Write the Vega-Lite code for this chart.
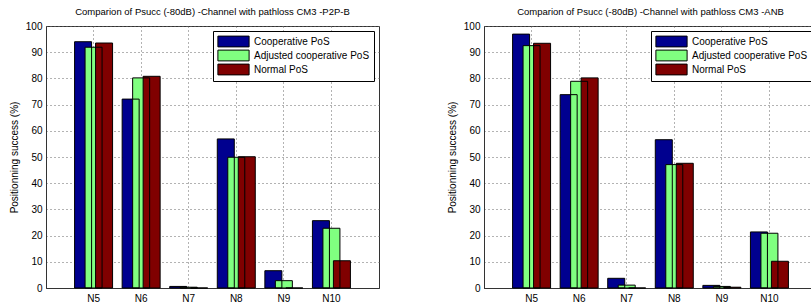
{
  "$schema": "https://vega.github.io/schema/vega-lite/v6.json",
  "padding": {"left": 8, "top": 6, "right": 0, "bottom": 0},
  "datasets": {
    "d": [
      {"panel": "P2P-B", "node": "N5", "series": "Cooperative PoS", "value": 94.0},
      {"panel": "P2P-B", "node": "N5", "series": "Adjusted cooperative PoS", "value": 91.9},
      {"panel": "P2P-B", "node": "N5", "series": "Normal PoS", "value": 93.5},
      {"panel": "P2P-B", "node": "N6", "series": "Cooperative PoS", "value": 72.1},
      {"panel": "P2P-B", "node": "N6", "series": "Adjusted cooperative PoS", "value": 80.2},
      {"panel": "P2P-B", "node": "N6", "series": "Normal PoS", "value": 80.8},
      {"panel": "P2P-B", "node": "N7", "series": "Cooperative PoS", "value": 0.6},
      {"panel": "P2P-B", "node": "N7", "series": "Adjusted cooperative PoS", "value": 0.3},
      {"panel": "P2P-B", "node": "N7", "series": "Normal PoS", "value": 0},
      {"panel": "P2P-B", "node": "N8", "series": "Cooperative PoS", "value": 56.9},
      {"panel": "P2P-B", "node": "N8", "series": "Adjusted cooperative PoS", "value": 49.9},
      {"panel": "P2P-B", "node": "N8", "series": "Normal PoS", "value": 50.1},
      {"panel": "P2P-B", "node": "N9", "series": "Cooperative PoS", "value": 6.6},
      {"panel": "P2P-B", "node": "N9", "series": "Adjusted cooperative PoS", "value": 2.8},
      {"panel": "P2P-B", "node": "N9", "series": "Normal PoS", "value": 0},
      {"panel": "P2P-B", "node": "N10", "series": "Cooperative PoS", "value": 25.7},
      {"panel": "P2P-B", "node": "N10", "series": "Adjusted cooperative PoS", "value": 22.8},
      {"panel": "P2P-B", "node": "N10", "series": "Normal PoS", "value": 10.4},
      {"panel": "ANB", "node": "N5", "series": "Cooperative PoS", "value": 96.9},
      {"panel": "ANB", "node": "N5", "series": "Adjusted cooperative PoS", "value": 92.5},
      {"panel": "ANB", "node": "N5", "series": "Normal PoS", "value": 93.4},
      {"panel": "ANB", "node": "N6", "series": "Cooperative PoS", "value": 73.8},
      {"panel": "ANB", "node": "N6", "series": "Adjusted cooperative PoS", "value": 78.9},
      {"panel": "ANB", "node": "N6", "series": "Normal PoS", "value": 80.2},
      {"panel": "ANB", "node": "N7", "series": "Cooperative PoS", "value": 3.7},
      {"panel": "ANB", "node": "N7", "series": "Adjusted cooperative PoS", "value": 1.1},
      {"panel": "ANB", "node": "N7", "series": "Normal PoS", "value": 0},
      {"panel": "ANB", "node": "N8", "series": "Cooperative PoS", "value": 56.6},
      {"panel": "ANB", "node": "N8", "series": "Adjusted cooperative PoS", "value": 47.1},
      {"panel": "ANB", "node": "N8", "series": "Normal PoS", "value": 47.6},
      {"panel": "ANB", "node": "N9", "series": "Cooperative PoS", "value": 1.0},
      {"panel": "ANB", "node": "N9", "series": "Adjusted cooperative PoS", "value": 0.6},
      {"panel": "ANB", "node": "N9", "series": "Normal PoS", "value": 0.3},
      {"panel": "ANB", "node": "N10", "series": "Cooperative PoS", "value": 21.4},
      {"panel": "ANB", "node": "N10", "series": "Adjusted cooperative PoS", "value": 20.9},
      {"panel": "ANB", "node": "N10", "series": "Normal PoS", "value": 10.2}
    ]
  },
  "config": {
    "font": "Liberation Sans",
    "view": {"stroke": "#333333", "strokeWidth": 1},
    "title": {"fontSize": 9.5, "fontWeight": "normal", "color": "#000000", "offset": 5, "anchor": "middle"},
    "axis": {
      "labelFont": "Liberation Sans", "labelFontSize": 10, "labelColor": "#000000",
      "titleFont": "Liberation Sans", "titleFontSize": 10, "titleFontWeight": "normal", "titleColor": "#000000",
      "domainColor": "#333333", "tickColor": "#333333", "tickSize": 4,
      "grid": true, "gridColor": "#666666", "gridDash": [1, 3], "gridOpacity": 1
    },
    "legend": {
      "labelFont": "Liberation Sans", "labelFontSize": 10, "labelColor": "#000000"
    }
  },
  "resolve": {"scale": {"color": "independent"}, "legend": {"color": "independent"}},
  "spacing": 66,
  "hconcat": [
    {
      "title": "Comparion of Psucc (-80dB) -Channel with pathloss CM3 -P2P-B",
      "width": 333, "height": 262,
      "data": {"name": "d"},
      "transform": [{"filter": "datum.panel == 'P2P-B'"}],
      "encoding": {
        "x": {"field": "node", "type": "nominal", "sort": ["N5", "N6", "N7", "N8", "N9", "N10"],
              "scale": {"paddingInner": 0, "paddingOuter": 0.5},
              "axis": {"title": null, "labelAngle": 0, "bandPosition": 0.5, "ticks": false, "labelPadding": 5}},
        "xOffset": {"field": "series", "type": "nominal", "sort": ["Cooperative PoS", "Adjusted cooperative PoS", "Normal PoS"],
                    "scale": {"paddingInner": 0, "paddingOuter": 0.767}},
        "y": {"field": "value", "type": "quantitative", "stack": null,
              "scale": {"domain": [0, 100], "nice": false},
              "axis": {"title": "Positionning success (%)", "values": [0,10,20,30,40,50,60,70,80,90,100], "ticks": false, "labelPadding": 4, "titlePadding": 6}}
      },
      "layer": [
        {
          "mark": {"type": "bar", "width": 17, "strokeWidth": 0},
          "encoding": {
            "color": {"field": "series", "type": "nominal", "sort": ["Cooperative PoS", "Adjusted cooperative PoS", "Normal PoS"],
                      "scale": {"range": ["#00008F", "#80FF80", "#800000"]},
                      "legend": {"title": null, "orient": "top-right", "offset": 5, "symbolType": "M-2.6,-0.9H2.6V0.9H-2.6Z",
                                 "symbolSize": 144, "symbolStrokeColor": "#000000", "symbolStrokeWidth": 1, "symbolOpacity": 1,
                                 "symbolOffset": 10, "labelOffset": 14, "rowPadding": -1, "padding": 4,
                                 "strokeColor": "#000000", "fillColor": "#ffffff"}}
          }
        },
        {
          "mark": {"type": "bar", "width": 17, "fillOpacity": 0, "stroke": "#000000", "strokeWidth": 1},
          "encoding": {}
        }
      ]
    },
    {
      "title": "Comparion of Psucc (-80dB) -Channel with pathloss CM3 -ANB",
      "width": 333, "height": 262,
      "data": {"name": "d"},
      "transform": [{"filter": "datum.panel == 'ANB'"}],
      "encoding": {
        "x": {"field": "node", "type": "nominal", "sort": ["N5", "N6", "N7", "N8", "N9", "N10"],
              "scale": {"paddingInner": 0, "paddingOuter": 0.5},
              "axis": {"title": null, "labelAngle": 0, "bandPosition": 0.5, "ticks": false, "labelPadding": 5}},
        "xOffset": {"field": "series", "type": "nominal", "sort": ["Cooperative PoS", "Adjusted cooperative PoS", "Normal PoS"],
                    "scale": {"paddingInner": 0, "paddingOuter": 0.767}},
        "y": {"field": "value", "type": "quantitative", "stack": null,
              "scale": {"domain": [0, 100], "nice": false},
              "axis": {"title": "Positionning success (%)", "values": [0,10,20,30,40,50,60,70,80,90,100], "ticks": false, "labelPadding": 4, "titlePadding": 6}}
      },
      "layer": [
        {
          "mark": {"type": "bar", "width": 17, "strokeWidth": 0},
          "encoding": {
            "color": {"field": "series", "type": "nominal", "sort": ["Cooperative PoS", "Adjusted cooperative PoS", "Normal PoS"],
                      "scale": {"range": ["#00008F", "#80FF80", "#800000"]},
                      "legend": {"title": null, "orient": "top-right", "offset": 5, "symbolType": "M-2.6,-0.9H2.6V0.9H-2.6Z",
                                 "symbolSize": 144, "symbolStrokeColor": "#000000", "symbolStrokeWidth": 1, "symbolOpacity": 1,
                                 "symbolOffset": 10, "labelOffset": 14, "rowPadding": -1, "padding": 4,
                                 "strokeColor": "#000000", "fillColor": "#ffffff"}}
          }
        },
        {
          "mark": {"type": "bar", "width": 17, "fillOpacity": 0, "stroke": "#000000", "strokeWidth": 1},
          "encoding": {}
        }
      ]
    }
  ]
}
